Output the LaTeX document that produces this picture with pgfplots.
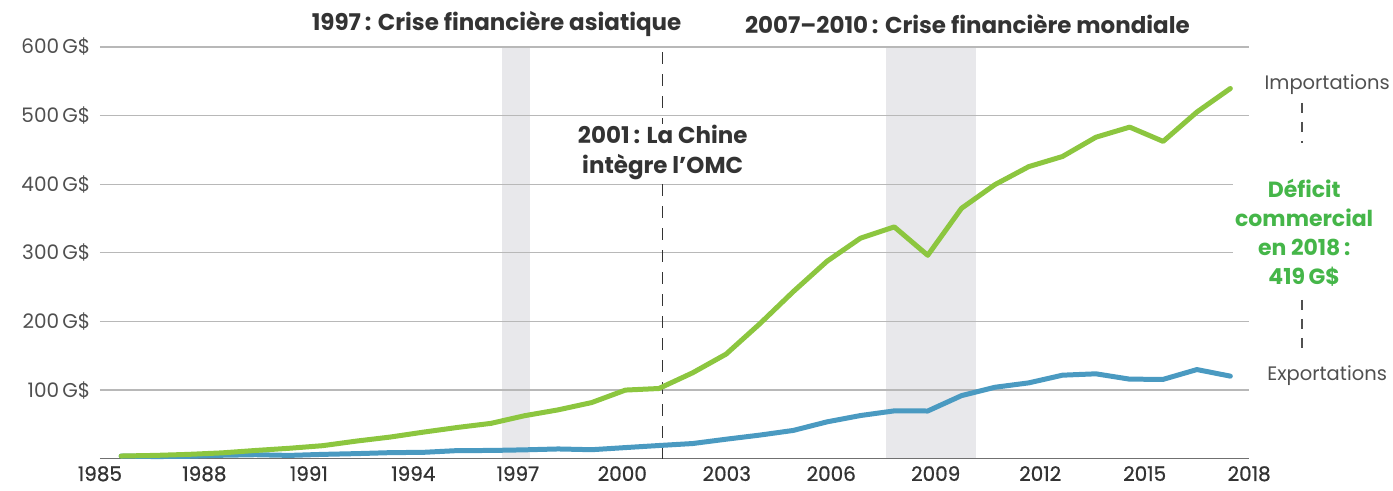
\documentclass[border=0pt]{standalone}
\usepackage{fontspec}
\setmainfont{Poppins}
\newfontfamily\medfont{Poppins}[FakeBold=0.8]
\usepackage{pgfplots}
\pgfplotsset{compat=1.18}
\definecolor{impc}{HTML}{8CC63F}
\definecolor{expc}{HTML}{4A9AC1}
\definecolor{shadec}{HTML}{E8E8EB}
\definecolor{gridc}{HTML}{B8B8B8}
\definecolor{axc}{HTML}{707070}
\definecolor{txt}{HTML}{333333}
\definecolor{lbl}{HTML}{505050}
\definecolor{defc}{HTML}{45B649}

\begin{document}
\begin{tikzpicture}
\begin{axis}[
  set layers,
  at={(100bp,32bp)}, anchor=south west,
  width=1150bp, height=412bp, scale only axis,
  xmin=1985, xmax=2018, ymin=0, ymax=600,
  axis x line*=bottom, axis y line*=left,
  y axis line style={draw=none},
  x axis line style={axc, line width=1.6bp},
  major tick length=0pt,
  tick style={draw=none},
  xtick={1985,1988,1991,1994,1997,2000,2003,2006,2009,2012,2015,2018},
  xticklabels={1985,1988,1991,1994,1997,2000,2003,2006,2009,2012,2015,2018},
  ytick={100,200,300,400,500,600},
  yticklabels={100\,G\$,200\,G\$,300\,G\$,400\,G\$,500\,G\$,600\,G\$},
  xticklabel style={font=\medfont\fontsize{20bp}{22bp}\selectfont, text=txt, yshift=-4bp},
  yticklabel style={font=\fontsize{20bp}{22bp}\selectfont, text=lbl, xshift=-6bp},
  ymajorgrids, grid style={gridc, line width=1.2bp},
  clip=false,
]
\begin{pgfonlayer}{axis background}
\fill[shadec] (axis cs:1996.55,0) rectangle (axis cs:1997.36,600);
\fill[shadec] (axis cs:2007.56,0) rectangle (axis cs:2010.15,600);
\end{pgfonlayer}

\draw[txt, line width=1bp, dash pattern=on 12bp off 10bp] (axis cs:2001.16,592) -- (axis cs:2001.16,0);

% Exportations
\addplot[expc, line width=5bp, line join=round, line cap=round] coordinates {
(1985.61,3.9) (1986.58,3.1) (1987.54,3.5) (1988.51,5.0) (1989.47,5.8) (1990.44,4.8)
(1991.40,6.3) (1992.37,7.4) (1993.33,8.8) (1994.30,9.3) (1995.26,11.8) (1996.23,12.0)
(1997.19,12.9) (1998.16,14.2) (1999.12,13.1) (2000.09,16.2) (2001.05,19.2) (2002.02,22.1)
(2002.98,28.4) (2003.95,34.4) (2004.91,41.2) (2005.88,53.7) (2006.84,62.9) (2007.81,69.7)
(2008.77,69.5) (2009.74,91.9) (2010.70,104.1) (2011.67,110.5) (2012.64,121.7) (2013.60,123.7)
(2014.57,115.9) (2015.53,115.6) (2016.50,129.9) (2017.46,120.3)
};
% Importations
\addplot[impc, line width=5bp, line join=round, line cap=round] coordinates {
(1985.61,3.9) (1986.58,4.8) (1987.54,6.3) (1988.51,8.5) (1989.47,12.0) (1990.44,15.2)
(1991.40,19.0) (1992.37,25.7) (1993.33,31.5) (1994.30,38.8) (1995.26,45.5) (1996.23,51.5)
(1997.19,62.6) (1998.16,71.2) (1999.12,81.8) (2000.09,100.0) (2001.05,102.3) (2002.02,125.2)
(2002.98,152.4) (2003.95,196.7) (2004.91,243.5) (2005.88,287.8) (2006.84,321.4) (2007.81,337.8)
(2008.77,296.4) (2009.74,364.9) (2010.70,399.4) (2011.67,425.6) (2012.64,440.4) (2013.60,468.5)
(2014.57,483.2) (2015.53,462.4) (2016.50,505.2) (2017.46,539.5)
};

\node[fill=white, inner sep=0pt, minimum width=212bp, minimum height=58bp, align=center,
  text=txt, font=\fontsize{23bp}{30bp}\selectfont\bfseries] at (axis cs:2001.16,446)
  {2001\,: La Chine\\intègre l’OMC};

\node[text=txt, font=\fontsize{23bp}{25bp}\selectfont\bfseries] at (axis cs:1996.39,634)
  {1997\,: Crise financière asiatique};
\node[text=txt, font=\fontsize{23bp}{25bp}\selectfont\bfseries] at (axis cs:2009.91,634)
  {2007–2010\,: Crise financière mondiale};

\node[text=lbl, font=\fontsize{19.5bp}{22bp}\selectfont] at (axis cs:2020.24,544.6) {Importations};
\node[text=lbl, font=\fontsize{19.5bp}{22bp}\selectfont] at (axis cs:2020.24,120.9) {Exportations};
\draw[lbl, line width=1.2bp, dash pattern=on 10bp off 9bp] (axis cs:2019.52,518.4) -- (axis cs:2019.52,460.2);
\draw[lbl, line width=1.2bp, dash pattern=on 10bp off 9bp] (axis cs:2019.52,231.5) -- (axis cs:2019.52,151.4);
\node[fill=white, inner sep=2bp, align=center, text=defc,
  font=\fontsize{22bp}{29bp}\selectfont\bfseries] at (axis cs:2019.58,329)
  {Déficit\\commercial\\en 2018\,:\\419\,G\$};
\end{axis}
\path (0,0) rectangle (1393bp,491bp);
\end{tikzpicture}
\end{document}
